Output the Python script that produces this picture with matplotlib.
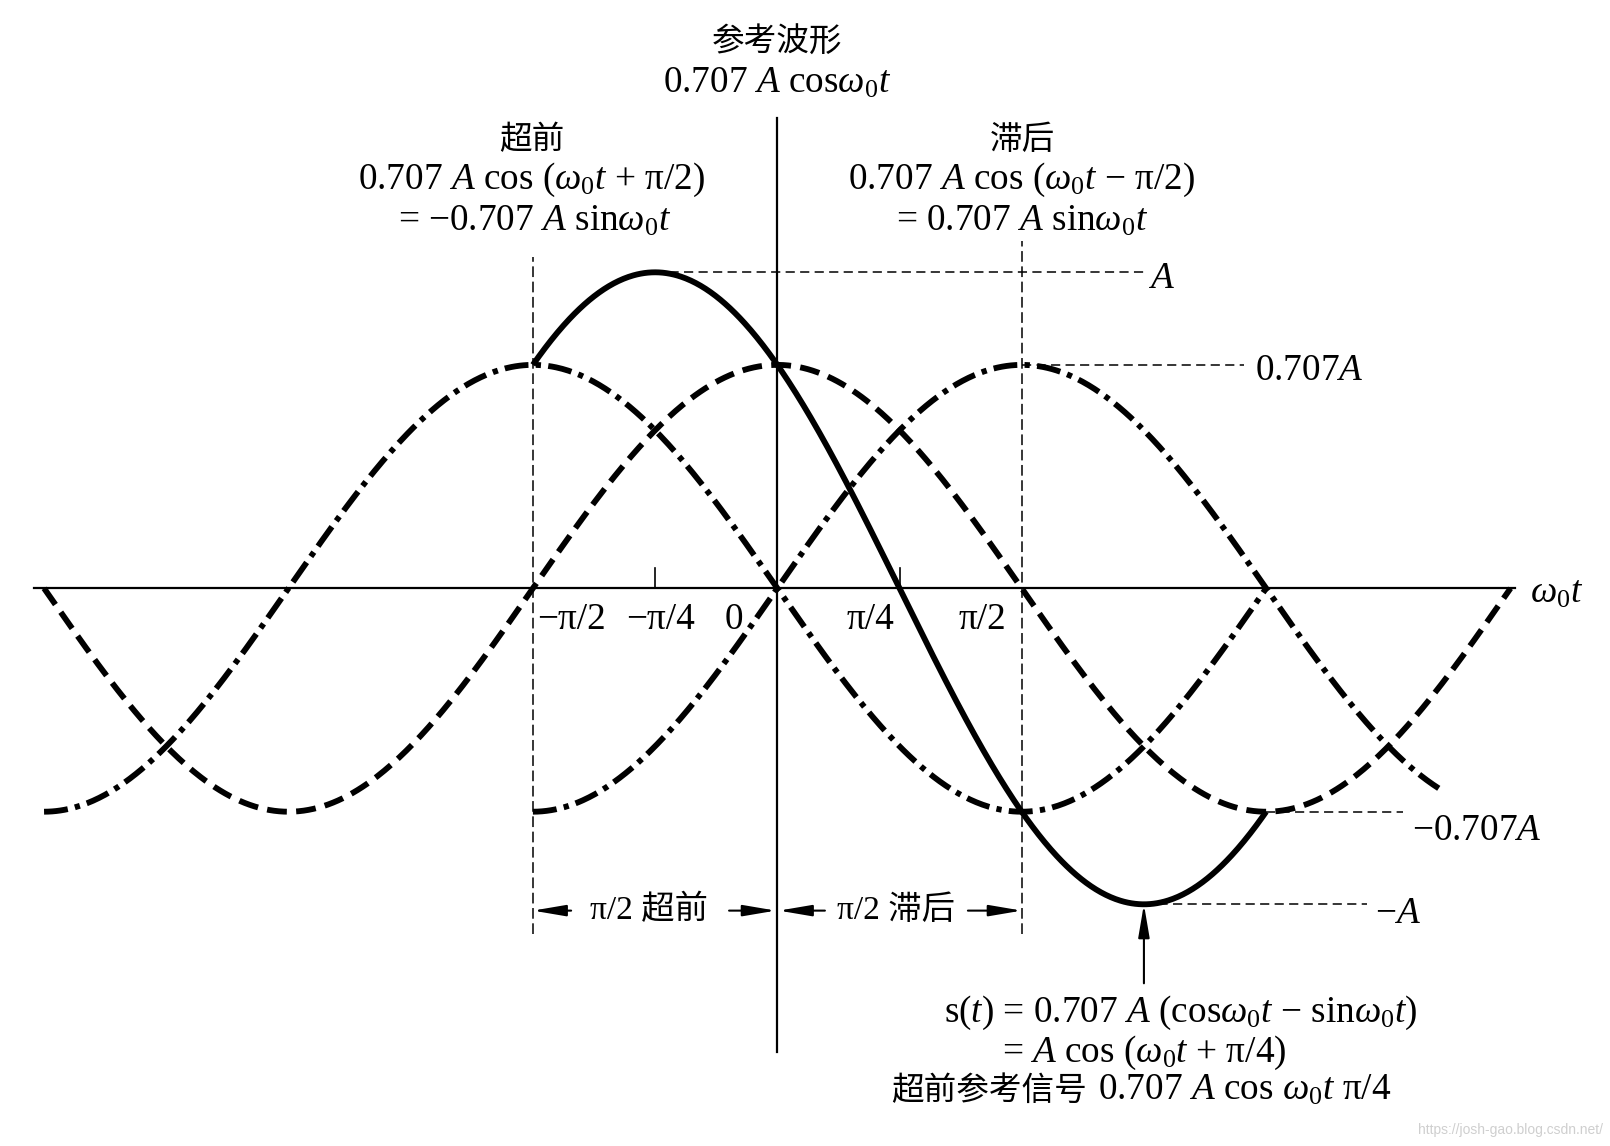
import numpy as np
import matplotlib.pyplot as plt

plt.rcParams['font.family'] = ['Liberation Serif', 'Noto Sans CJK SC']
plt.rcParams['mathtext.fontset'] = 'custom'
plt.rcParams['mathtext.rm'] = 'Liberation Serif'
plt.rcParams['mathtext.it'] = 'Liberation Serif:italic'
plt.rcParams['mathtext.bf'] = 'Liberation Serif:bold'

pi = np.pi

# waveforms: amplitude (units of A), phase, drawn span in rad
wave_names = ["参考波形", "超前", "滞后", "s(t)"]
wave_amp = [0.707, 0.707, 0.707, 1.0]
wave_phase = [0.0, pi / 2, -pi / 2, pi / 4]
wave_start = [-1.5 * pi, -1.5 * pi, -0.5 * pi, -0.5 * pi]
wave_end = [1.5 * pi, pi, 1.36 * pi, pi]

# amplitude levels marked on the right
level_values = [1.0, 0.707, -0.707, -1.0]
level_labels = ["$A$", "0.707$A$", "−0.707$A$", "−$A$"]
level_from = [-pi / 4, pi / 2, pi, 3 * pi / 4]

# x axis labels
tick_marks = [-pi / 4, pi / 4]
tick_labels = ["−π/2", "−π/4", "0", "π/4", "π/2"]

CJK = 'Noto Sans CJK SC'
SERIF = 'Liberation Serif'
FS = 26.8
FS_CJK = 23.5

# pixel mapping of the original figure: origin at (777, 588), 155.6 px/rad, 316 px per A
x0, y0, sx, sy = 777.3, 588.3, 155.6, 316.0
W, H = 1610, 1146

fig = plt.figure(figsize=(W / 100, H / 100), dpi=100)
ax = fig.add_axes([0, 0, 1, 1])
ax.set_xlim(-x0 / sx, (W - x0) / sx)
ax.set_ylim(-(H - y0) / sy, y0 / sy)
ax.axis('off')

dashes = {"参考波形": (0, (3.4, 1.6)), "超前": (0, (4.1, 1.25, 0.9, 1.25)),
          "滞后": (0, (4.1, 1.25, 0.9, 1.25)), "s(t)": "-"}
for name, amp, ph, a, b in zip(wave_names, wave_amp, wave_phase, wave_start, wave_end):
    x = np.linspace(a, b, 600)
    ax.plot(x, amp * np.cos(x + ph), color='black', lw=4.2, ls=dashes[name],
            solid_capstyle='butt', dash_capstyle='butt')

# axes lines
ax.plot([-1.52 * pi, 1.51 * pi], [0, 0], color='black', lw=1.6)
ax.plot([0, 0], [-1.467, 1.488], color='black', lw=1.6)
ax.plot([-pi / 2, -pi / 2], [-1.094, 1.048], color='black', lw=1.1, ls=(0, (7, 3)))
ax.plot([pi / 2, pi / 2], [-1.094, 1.10], color='black', lw=1.1, ls=(0, (7, 3)))
for t in tick_marks:
    ax.plot([t, t], [0, 0.065], color='black', lw=1.2)

# level leaders
leader_end = [2.37, 3.0, 4.02, 3.79]
label_x = [2.38, 3.07, 4.08, 3.84]
label_dy = [-0.02, -0.02, -0.06, -0.03]
for v, lab, xf, xe, lx, dy in zip(level_values, level_labels, level_from, leader_end, label_x, label_dy):
    ax.plot([xf, xe], [v, v], color='black', lw=1.1, ls=(0, (6, 3.5)))
    ax.text(lx, v + dy, lab, fontsize=FS, family=SERIF, ha='left', va='center')

# tick labels
for lab, lx in zip(tick_labels, [-1.32, -0.75, -0.28, 0.60, 1.32]):
    ax.text(lx, -0.1, lab, fontsize=FS, family=SERIF, ha='center', va='center')
ax.text(4.84, -0.015, r"$\omega_0t$", fontsize=FS, ha='left', va='center')

# top annotations
ax.text(0, 1.727, "参考波形", fontsize=FS_CJK, family=CJK, ha='center', va='center')
ax.text(0, 1.598, r"0.707 $A$ cos$\omega_0t$", fontsize=FS, family=SERIF, ha='center', va='center')
ax.text(-1.58, 1.418, "超前", fontsize=FS_CJK, family=CJK, ha='center', va='center')
ax.text(-1.58, 1.292, r"0.707 $A$ cos ($\omega_0t$ + π/2)", fontsize=FS, family=SERIF, ha='center', va='center')
ax.text(-1.56, 1.162, r"= −0.707 $A$ sin$\omega_0t$", fontsize=FS, family=SERIF, ha='center', va='center')
ax.text(1.572, 1.418, "滞后", fontsize=FS_CJK, family=CJK, ha='center', va='center')
ax.text(1.572, 1.292, r"0.707 $A$ cos ($\omega_0t$ − π/2)", fontsize=FS, family=SERIF, ha='center', va='center')
ax.text(1.572, 1.162, r"= 0.707 $A$ sin$\omega_0t$", fontsize=FS, family=SERIF, ha='center', va='center')

# lead / lag spans
arrow = dict(arrowstyle='-|>,head_length=1.0,head_width=0.17', color='black', lw=1.5,
             shrinkA=0, shrinkB=0, mutation_scale=20)
yr = -1.02
ax.annotate("", xy=(-pi / 2, yr), xytext=(-1.325, yr), arrowprops=arrow)
ax.annotate("", xy=(-0.01, yr), xytext=(-0.31, yr), arrowprops=arrow)
ax.annotate("", xy=(0.01, yr), xytext=(0.306, yr), arrowprops=arrow)
ax.annotate("", xy=(pi / 2, yr), xytext=(1.225, yr), arrowprops=arrow)
ax.text(-0.824, yr, "π/2 超前", fontsize=24, family=[SERIF, CJK], ha='center', va='center')
ax.text(0.765, yr, "π/2 滞后", fontsize=24, family=[SERIF, CJK], ha='center', va='center')

# s(t) pointer and formula
ax.annotate("", xy=(3 * pi / 4, -1.0), xytext=(3 * pi / 4, -1.25), arrowprops=arrow)
ax.text(2.595, -1.345, r"s($t$) = 0.707 $A$ (cos$\omega_0t$ − sin$\omega_0t$)", fontsize=FS,
        family=SERIF, ha='center', va='center')
ax.text(2.358, -1.47, r"= $A$ cos ($\omega_0t$ + π/4)", fontsize=FS, family=SERIF,
        ha='center', va='center')
ax.text(0.732, -1.59, "超前参考信号", fontsize=FS_CJK, family=CJK, ha='left', va='center')
ax.text(2.06, -1.59, r"0.707 $A$ cos $\omega_0t$ π/4", fontsize=FS, family=SERIF,
        ha='left', va='center')

ax.text(4.711, -1.715, "https://josh-gao.blog.csdn.net/", fontsize=10, family='Liberation Sans',
        color='#cfcfcf', ha='center', va='center')

fig.savefig("out.png", dpi=100)
